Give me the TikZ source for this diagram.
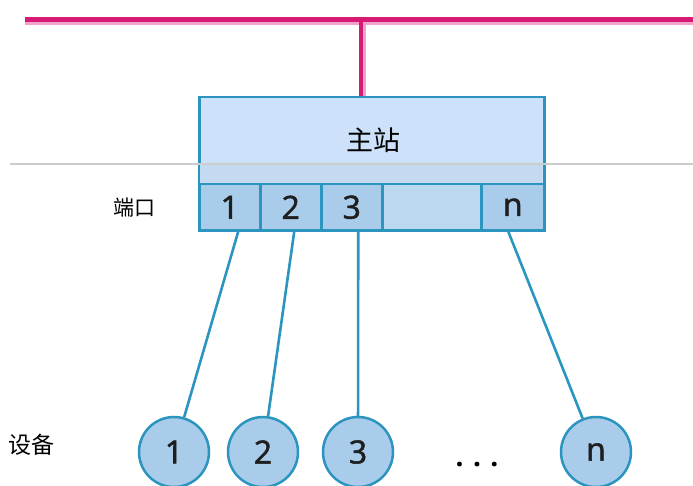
\documentclass[tikz,border=0pt]{standalone}
\usepackage{fontspec}
\setmainfont{Open Sans}
\newfontfamily\cjk{Noto Sans CJK SC}
\newfontfamily\digitfont[FakeBold=1.6]{Open Sans}
\definecolor{edgeblue}{HTML}{2B95BF}
\definecolor{mainfill}{HTML}{CDE1FB}
\definecolor{bandfill}{HTML}{C3DAF0}
\definecolor{cellfill}{HTML}{A8CCE9}
\definecolor{emptyfill}{HTML}{BAD8EF}
\definecolor{pinkdark}{HTML}{D81B72}
\definecolor{pinklight}{HTML}{F2A2CB}
\definecolor{digit}{HTML}{1E1E1E}
\tikzset{
  cell/.style={draw=edgeblue, fill=cellfill, line width=2.5pt, inner sep=0pt,
    minimum height=46pt, anchor=north west, text=digit,
    font=\digitfont\fontsize{32}{32}\selectfont},
  dev/.style={circle, draw=edgeblue, fill=cellfill, line width=2.5pt, inner sep=0pt,
    minimum size=70pt, text=digit, font=\digitfont\fontsize{32}{32}\selectfont},
  conn/.style={draw=edgeblue, line width=2.6pt},
  lbl/.style={font=\cjk\fontsize{21}{21}\selectfont, text=black},
}
\begin{document}
\begin{tikzpicture}[x=1pt,y=-1pt]
\useasboundingbox (0,0) rectangle (693,486);
% bus
\coordinate (busL) at (25,19.5);
\coordinate (busR) at (693,19.5);
\coordinate (busL2) at (25,23.5);
\coordinate (busR2) at (693,23.5);
\draw[pinklight, line width=2.6pt] (busL2) -- (busR2);
\draw[pinkdark, line width=4.5pt] (busL) -- (busR);
% main box
\node[draw=edgeblue, fill=mainfill, line width=2.5pt, inner sep=0pt,
  minimum width=345pt, minimum height=134pt, anchor=north west] (main) at (198,96) {};
\fill[bandfill] (199.5,164) rectangle (541.5,183);
\node[font=\cjk\fontsize{27}{27}\selectfont, text=black] (mtext) at (373,140) {主站};
% drop line
\draw[pinklight, line width=2.6pt] ([xshift=-7.5pt]main.north) -- ([xshift=-7.5pt]main.north |- busL2);
\draw[pinkdark, line width=4pt] ([xshift=-11pt]main.north) -- ([xshift=-11pt]main.north |- busL);
% ports
\node[cell, minimum width=61pt] (p1) at (198,183) {1};
\node[cell, minimum width=61pt] (p2) at (259,183) {2};
\node[cell, minimum width=61pt] (p3) at (320,183) {3};
\node[cell, minimum width=99pt, fill=emptyfill] (pe) at (381,183) {};
\node[cell, minimum width=63pt] (pn) at (480,183) {n};
% gray line
\coordinate (gL) at (10,164);
\coordinate (gR) at (693,164);
\draw[gray!40, line width=1.5pt] (gL) -- (gR);
% devices
\node[dev] (d1) at (174,452) {1};
\node[dev] (d2) at (263,452) {2};
\node[dev] (d3) at (358,452) {3};
\node[dev] (dn) at (596,452) {n};
\node[font=\bfseries\fontsize{28}{28}\selectfont, anchor=base, text=black] (dots) at (477,466) {.\,\,.\,\,.};
% connectors
\draw[conn] ([xshift=8.5pt]p1.south) -- (d1);
\draw[conn] ([xshift=3.5pt]p2.south) -- (d2);
\draw[conn] ([xshift=6.5pt]p3.south) -- (d3);
\draw[conn] ([xshift=-4.5pt]pn.south) -- (dn);
% labels
\node[lbl] (portlbl) at (134,208) {端口};
\node[lbl, font=\cjk\fontsize{23}{23}\selectfont] (devlbl) at (32,445) {设备};
\end{tikzpicture}
\end{document}
